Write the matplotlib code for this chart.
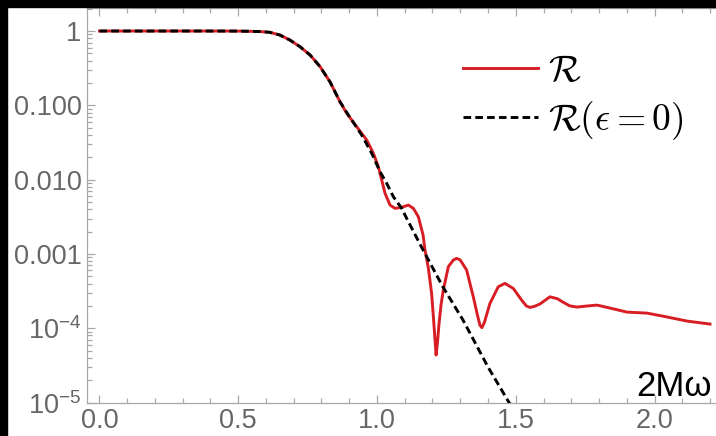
import matplotlib
matplotlib.use("Agg")
import matplotlib.pyplot as plt
from matplotlib.patches import Rectangle
from matplotlib.ticker import LogLocator, NullFormatter, MultipleLocator

plt.rcParams['font.family'] = ['Liberation Sans', 'DejaVu Sans']
plt.rcParams['mathtext.fontset'] = 'custom'
plt.rcParams['mathtext.rm'] = 'Liberation Sans'
plt.rcParams['mathtext.it'] = 'Liberation Sans:italic'
plt.rcParams['lines.scale_dashes'] = False

# full reflectivity
omega_r = [0.0, 0.2, 0.4, 0.5, 0.578, 0.614, 0.650, 0.686, 0.7225, 0.759,
           0.795, 0.831, 0.867, 0.891, 0.927, 0.963, 0.987, 1.005, 1.017, 1.029,
           1.047, 1.065, 1.089, 1.113, 1.131, 1.149, 1.166, 1.173, 1.185, 1.197,
           1.204, 1.209, 1.213, 1.218, 1.224, 1.231, 1.239, 1.257, 1.275, 1.287,
           1.300, 1.323, 1.347, 1.362, 1.371, 1.378, 1.387, 1.407, 1.437, 1.461,
           1.491, 1.521, 1.538, 1.551, 1.567, 1.587, 1.623, 1.650, 1.670, 1.695,
           1.721, 1.760, 1.793, 1.840, 1.901, 1.973, 2.045, 2.117, 2.200]
refl = [1.0, 1.0, 1.0, 0.998, 0.984, 0.961, 0.883, 0.757, 0.615, 0.475,
        0.331, 0.206, 0.111, 0.078, 0.0515, 0.0341, 0.0226, 0.0149, 0.00988, 0.00654,
        0.00455, 0.00411, 0.00424, 0.00455, 0.00411, 0.00317, 0.00180, 0.00113, 6.5e-4, 2.9e-4,
        1.3e-4, 7.0e-5, 4.36e-5, 6.5e-5, 1.2e-4, 2.1e-4, 3.27e-4, 6.73e-4, 8.28e-4, 8.72e-4,
        8.3e-4, 6.07e-4, 2.65e-4, 1.5e-4, 1.1e-4, 1.02e-4, 1.2e-4, 2.16e-4, 3.62e-4, 4.02e-4,
        3.44e-4, 2.40e-4, 2.0e-4, 1.91e-4, 1.97e-4, 2.12e-4, 2.65e-4, 2.5e-4, 2.25e-4, 2.0e-4,
        1.93e-4, 2.0e-4, 2.05e-4, 1.87e-4, 1.65e-4, 1.60e-4, 1.42e-4, 1.25e-4, 1.14e-4]

# epsilon = 0 reflectivity
omega_0 = [0.0, 0.2, 0.4, 0.5, 0.578, 0.614, 0.650, 0.686, 0.7225, 0.759,
           0.795, 0.831, 0.867, 0.897, 0.945, 0.981, 1.011, 1.035, 1.059, 1.089,
           1.107, 1.166, 1.238, 1.310, 1.400, 1.476, 1.52]
refl_0 = [1.0, 1.0, 1.0, 0.998, 0.984, 0.961, 0.883, 0.757, 0.615, 0.475,
          0.331, 0.206, 0.111, 0.0740, 0.0398, 0.0226, 0.01277, 0.00891, 0.00589, 0.00411,
          0.00301, 0.00113, 3.58e-4, 1.29e-4, 3.01e-5, 1.0e-5, 5.0e-6]

xticks = [0.0, 0.5, 1.0, 1.5, 2.0]
xticklabels = ['0.0', '0.5', '1.0', '1.5', '2.0']
yticks = [1, 0.1, 0.01, 0.001, 1e-4, 1e-5]
yticklabels = ['1', '0.100', '0.010', '0.001', r'$10^{-4}$', r'$10^{-5}$']

fig = plt.figure(figsize=(7.16, 4.36), dpi=100)
ax = fig.add_axes([87 / 716, 33.4 / 436, 629 / 716, 394.1 / 436])

ax.plot(omega_r, refl, color='#d81e24', lw=2.1, label=r'$\mathcal{R}$', zorder=3)
ax.plot(omega_0, refl_0, color='black', lw=2.1, dashes=(5.5, 3.0),
        label=r'$\mathcal{R}(\epsilon = 0)$', zorder=4)

ax.set_yscale('log')
ax.set_xlim(-0.045, 2.2216)
ax.set_ylim(1e-5, 2.01)

ax.set_xticks(xticks)
ax.set_xticklabels(xticklabels)
ax.xaxis.set_minor_locator(MultipleLocator(0.1))
ax.set_yticks(yticks)
ax.set_yticklabels(yticklabels)
ax.yaxis.set_minor_locator(LogLocator(base=10, subs=range(2, 10), numticks=20))
ax.yaxis.set_minor_formatter(NullFormatter())

gray = '#a8a8a8'
for side in ['left', 'bottom', 'top']:
    ax.spines[side].set_color(gray)
    ax.spines[side].set_linewidth(0.9)
ax.spines['right'].set_visible(False)

ax.tick_params(which='both', direction='in', color=gray, width=0.9,
               top=True, right=False, labelcolor='#666666', labelsize=19.5)
ax.tick_params(which='major', length=6)
ax.tick_params(which='minor', length=3.5)
ax.tick_params(axis='y', pad=4)
ax.tick_params(axis='x', pad=4)

ax.text(0.994, 0.017, '2Mω', transform=ax.transAxes, ha='right',
        va='baseline', fontsize=25, color='black')

leg = ax.legend(loc='upper left', bbox_to_anchor=(463 / 716, 1 - 53 / 436),
                bbox_transform=fig.transFigure, frameon=False, fontsize=27,
                handlelength=2.0, handletextpad=0.28, labelspacing=0.28,
                borderaxespad=0, borderpad=0)
for t in leg.get_texts():
    t.set_math_fontfamily('cm')

# dark frame around the screen capture
fig.patches.append(Rectangle((0, 1 - 7 / 436), 1, 7 / 436, transform=fig.transFigure,
                             color='black', zorder=10))
fig.patches.append(Rectangle((0, 0), 7 / 716, 1, transform=fig.transFigure,
                             color='black', zorder=10))

fig.savefig('out.png', dpi=100)
